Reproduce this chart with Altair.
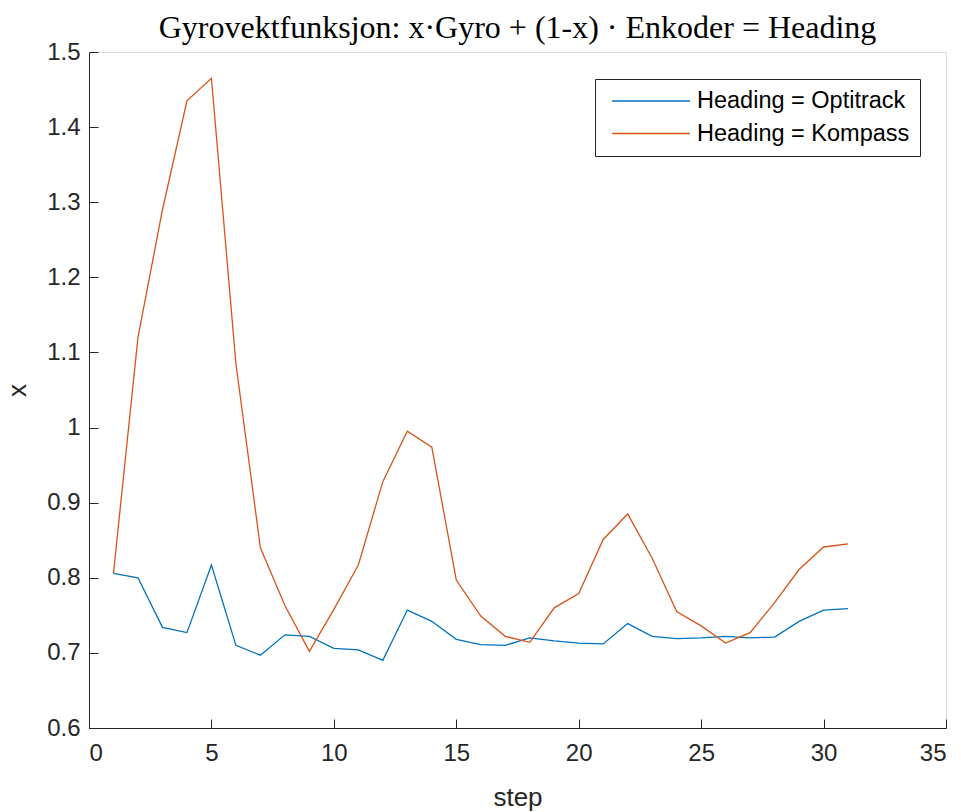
import altair as alt
import pandas as pd

# ---- data ----
steps = list(range(1, 32))
optitrack = [0.806, 0.800, 0.734, 0.727, 0.817, 0.710, 0.697, 0.724, 0.722, 0.706,
             0.704, 0.690, 0.757, 0.742, 0.718, 0.711, 0.710, 0.720, 0.716, 0.713,
             0.712, 0.739, 0.722, 0.719, 0.720, 0.722, 0.720, 0.721, 0.742, 0.757,
             0.759]
kompass = [0.806, 1.120, 1.290, 1.435, 1.465, 1.085, 0.840, 0.763, 0.702, 0.758,
           0.817, 0.928, 0.995, 0.974, 0.797, 0.749, 0.722, 0.714, 0.760, 0.779,
           0.851, 0.885, 0.826, 0.755, 0.736, 0.713, 0.727, 0.767, 0.811, 0.841,
           0.845]
series_names = ["Heading = Optitrack", "Heading = Kompass"]
series_colors = ["#0072BD", "#D95319"]
x_ticks = [0, 5, 10, 15, 20, 25, 30, 35]
y_ticks = [0.6, 0.7, 0.8, 0.9, 1.0, 1.1, 1.2, 1.3, 1.4, 1.5]
title_text = "Gyrovektfunksjon: x\u00b7Gyro + (1-x) \u00b7 Enkoder = Heading"

df = pd.DataFrame({
    "step": steps + steps,
    "x": optitrack + kompass,
    "series": [series_names[0]] * len(steps) + [series_names[1]] * len(steps),
})

W, H = 857, 676
AX = "#262626"
SANS = "Liberation Sans"
INWARD = {"expr": "-9"}   # MATLAB-style ticks pointing into the plot

xscale = alt.Scale(domain=[0, 35], nice=False, zero=False)
yscale = alt.Scale(domain=[0.6, 1.5], nice=False, zero=False)

chart = alt.Chart(df).mark_line(strokeWidth=1.3).encode(
    x=alt.X("step:Q", scale=xscale, axis=alt.Axis(
        orient="bottom", values=x_ticks, ticks=True, tickSize=INWARD,
        tickColor=AX, tickWidth=1, grid=False,
        domain=True, domainColor=AX, domainWidth=1,
        labelFont=SANS, labelFontSize=24, labelColor=AX, labelPadding=22,
        title="step", titleFont=SANS, titleFontSize=26, titleFontWeight="normal",
        titleColor=AX, titleBaseline="alphabetic", titleY=77)),
    y=alt.Y("x:Q", scale=yscale, axis=alt.Axis(
        orient="left", values=y_ticks, format=".1~f", ticks=True, tickSize=INWARD,
        tickColor=AX, tickWidth=1, grid=False,
        domain=True, domainColor=AX, domainWidth=1,
        labelFont=SANS, labelFontSize=24, labelColor=AX, labelPadding=18,
        title="x", titleFont=SANS, titleFontSize=26, titleFontWeight="normal",
        titleColor=AX, titleBaseline="alphabetic", titleX=-64, titleY=H / 2,
        titleAlign="center")),
    color=alt.Color("series:N", scale=alt.Scale(domain=series_names, range=series_colors),
                    legend=alt.Legend(
                        title=None, orient="none", legendX=506, legendY=27,
                        symbolType="stroke", symbolSize=6084, symbolStrokeWidth=1.3,
                        clipHeight=24, rowPadding=8.5, padding=10, symbolOffset=6,
                        labelOffset=6, labelFont=SANS, labelFontSize=23.5,
                        labelColor="#000000", labelLimit=400,
                        strokeColor=AX, fillColor="white")),
).properties(
    width=W, height=H,
    title=alt.TitleParams(title_text, font="Liberation Serif", fontSize=32,
                          fontWeight="normal", color="#000000", anchor="middle",
                          baseline="alphabetic", offset=3, dy=33, frame="group"),
    autosize=alt.AutoSizeParams(type="none"),
    padding={"left": 81, "top": 44, "right": 7, "bottom": 84},
).configure_view(stroke=None).configure(background="white")

chart.save("out.html", embed_options={"renderer": "svg", "actions": False})
